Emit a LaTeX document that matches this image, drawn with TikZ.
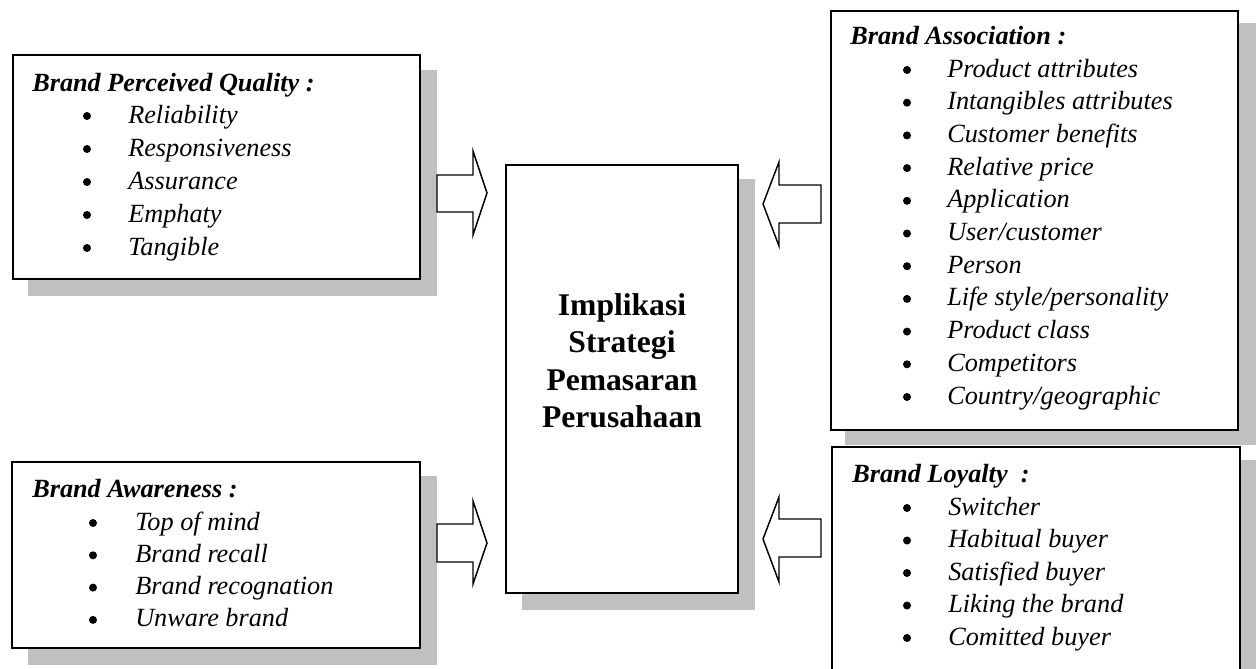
\documentclass[tikz,border=0pt]{standalone}
\usepackage{fontspec}
\setmainfont{Liberation Serif}
\definecolor{shgray}{RGB}{192,192,192}
\tikzset{
  boxline/.style={draw=black, line width=1.5pt, fill=white},
  shadowbox/.style={fill=shgray, draw=none},
  blockarrow/.style={draw=black, line width=1.1pt, fill=white, line join=miter},
  head/.style={anchor=base west, inner sep=0pt, font=\fontsize{19.7}{22}\selectfont\bfseries\itshape},
  item/.style={anchor=base west, inner sep=0pt, font=\fontsize{19.7}{22}\selectfont\itshape},
  bul/.style={circle, fill=black, inner sep=0pt, minimum size=6pt},
  ctext/.style={anchor=base, inner sep=0pt, font=\fontsize{23.7}{26}\selectfont\bfseries}
}
\begin{document}
\begin{tikzpicture}[x=0.75pt,y=-0.75pt]
\useasboundingbox (0,0) rectangle (1256,668);
\clip (0,0) rectangle (1256,668);
\fill[white] (0,0) rectangle (1256,668);

% shadows
\fill[shadowbox] (28,70) rectangle (437,296);
\fill[shadowbox] (28,476) rectangle (437,665);
\fill[shadowbox] (522,179) rectangle (755,610);
\fill[shadowbox] (845,23) rectangle (1256,445);
\fill[shadowbox] (846,460) rectangle (1256,690);

% boxes
\draw[boxline] (13,55) rectangle (420,279);
\draw[boxline] (12,462) rectangle (420,648);
\draw[boxline] (506,165) rectangle (738,593);
\draw[boxline] (831,11) rectangle (1238,430);
\draw[boxline] (832,447) rectangle (1240,700);

% block arrows
\draw[blockarrow] (437,175) -- (473,175) -- (473,151) -- (487,193) -- (473,235) -- (473,212) -- (437,212) -- cycle;
\draw[blockarrow] (437,524) -- (473,524) -- (473,501) -- (487,543) -- (473,584) -- (473,562) -- (437,562) -- cycle;
\draw[blockarrow] (821,185) -- (779,185) -- (779,162) -- (763,204) -- (779,246) -- (779,223) -- (821,223) -- cycle;
\draw[blockarrow] (821,519) -- (779,519) -- (779,497) -- (763,539) -- (779,582) -- (779,557) -- (821,557) -- cycle;

% centre text
\node[ctext] (c1) at (622,315) {Implikasi};
\node[ctext] (c2) at (622,352) {Strategi};
\node[ctext] (c3) at (622,390) {Pemasaran};
\node[ctext] (c4) at (622,427) {Perusahaan};

% Brand Perceived Quality
\node[head] (pqh) at (32,91) {Brand Perceived Quality :};
\foreach \t [count=\i] in {Reliability,Responsiveness,Assurance,Emphaty,Tangible}{
  \pgfmathsetmacro\yy{123+33*(\i-1)}
  \node[bul] (pqb\i) at (87,\yy-7) {};
  \node[item] (pqi\i) at (128,\yy) {\t};
}

% Brand Awareness
\node[head] (bah) at (32,497) {Brand Awareness :};
\foreach \t [count=\i] in {Top of mind,Brand recall,Brand recognation,Unware brand}{
  \pgfmathsetmacro\yy{530+32.3*(\i-1)}
  \node[bul] (bab\i) at (93,\yy-7) {};
  \node[item] (bai\i) at (135,\yy) {\t};
}

% Brand Association
\node[head] (ash) at (850,44) {Brand Association :};
\foreach \t [count=\i] in {Product attributes,Intangibles attributes,Customer benefits,Relative price,Application,User/customer,Person,Life style/personality,Product class,Competitors,Country/geographic}{
  \pgfmathsetmacro\yy{77+32.7*(\i-1)}
  \node[bul] (asb\i) at (907,\yy-7) {};
  \node[item] (asi\i) at (947,\yy) {\t};
}

% Brand Loyalty
\node[head] (blh) at (852,482) {Brand Loyalty\ \ :};
\foreach \t [count=\i] in {Switcher,Habitual buyer,Satisfied buyer,Liking the brand,Comitted buyer}{
  \pgfmathsetmacro\yy{515+32.5*(\i-1)}
  \node[bul] (blb\i) at (907,\yy-7) {};
  \node[item] (bli\i) at (948,\yy) {\t};
}
\end{tikzpicture}
\end{document}
